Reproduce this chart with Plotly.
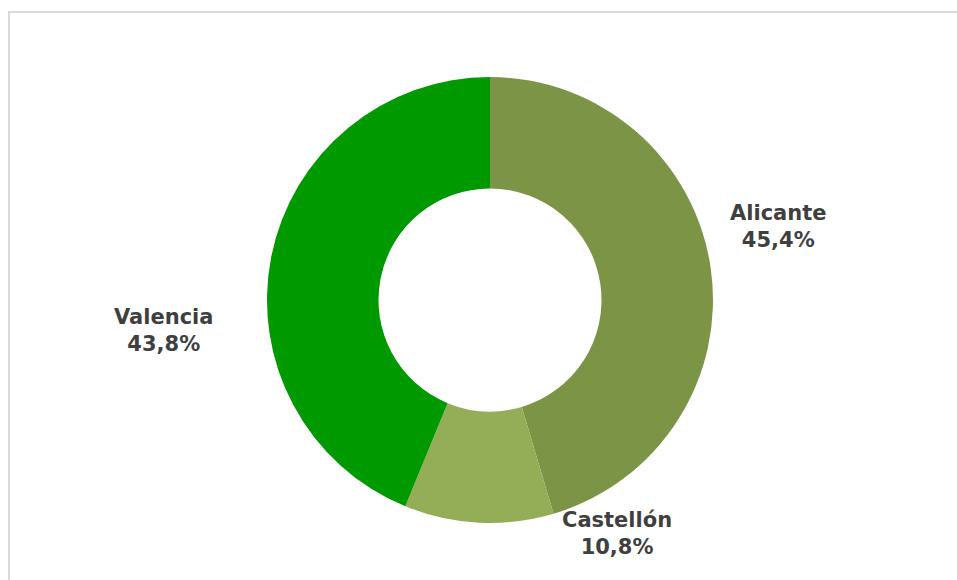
import plotly.graph_objects as go

W, H = 957, 580

categories = ["Alicante", "Castellón", "Valencia"]
values = [45.4, 10.8, 43.8]
colors = ["#7B9445", "#93AE56", "#009A00"]

# label anchor positions (page pixels) for each category label
label_px = [(778, 227), (617, 533), (163, 330)]

cx, cy, r = 490, 300, 223


def px2x(px):
    return px / W


def py2y(py):
    return 1 - py / H


fig = go.Figure(go.Pie(
    labels=categories,
    values=values,
    hole=0.5,
    sort=False,
    direction="clockwise",
    rotation=0,
    marker=dict(colors=colors, line=dict(width=0)),
    textinfo="none",
    hoverinfo="label+percent",
    domain=dict(x=[(cx - r) / W, (cx + r) / W], y=[1 - (cy + r) / H, 1 - (cy - r) / H]),
    showlegend=False,
))

annotations = []
for cat, v, (px, py) in zip(categories, values, label_px):
    txt = f"<b>{cat}</b><br><b>{v:.1f}%</b>".replace(".", ",")
    annotations.append(dict(
        x=px2x(px), y=py2y(py), xref="paper", yref="paper",
        text=txt, showarrow=False, xanchor="center", yanchor="middle",
        align="center",
        font=dict(family="DejaVu Sans, Verdana, sans-serif", size=21, color="#3F3F3F"),
    ))

fig.update_layout(
    width=W, height=H,
    margin=dict(l=0, r=0, t=0, b=0),
    paper_bgcolor="white",
    plot_bgcolor="white",
    annotations=annotations,
    shapes=[dict(type="rect", xref="paper", yref="paper",
                 x0=px2x(9), x1=1.05, y0=-0.05, y1=py2y(12),
                 line=dict(color="#D9D9D9", width=2), fillcolor="rgba(0,0,0,0)")],
)

fig.write_html(
    "out.html",
    config={"displayModeBar": False},
    post_script="document.body.style.margin='0';document.body.style.overflow='hidden';",
)
